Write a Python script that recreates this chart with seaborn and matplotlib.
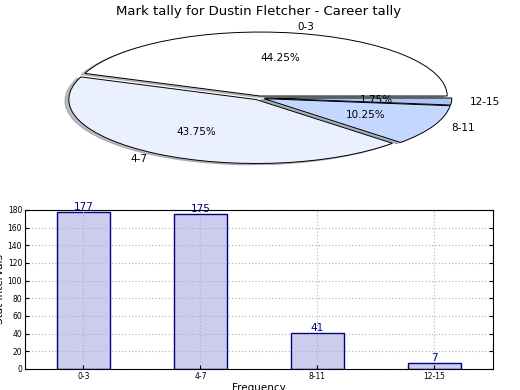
import matplotlib
matplotlib.use("Agg")
import matplotlib.pyplot as plt
import seaborn as sns
import pandas as pd

sns.set_style("white")
plt.rcParams['font.family'] = ['DejaVu Sans']
plt.rcParams['text.color'] = 'black'
plt.rcParams['axes.labelcolor'] = 'black'
plt.rcParams['xtick.color'] = 'black'
plt.rcParams['ytick.color'] = 'black'

categories = ["0-3", "4-7", "8-11", "12-15"]
counts = [177, 175, 41, 7]
pie_colors = ["#ffffff", "#eaf0fe", "#c4d8ff", "#a9c6f2"]

df = pd.DataFrame({"interval": categories, "count": counts})

fig = plt.figure(figsize=(5.2, 3.9), dpi=100)

# pie on top, stretched (aspect not equal)
ax1 = fig.add_axes([0.048, 0.544, 0.9, 0.41])
ax1.pie(counts, labels=categories, colors=pie_colors, autopct="%1.2f%%",
        explode=[0.03] * 4, shadow={"ox": -0.015, "oy": -0.015, "shade": 0.5},
        startangle=0,
        wedgeprops={"edgecolor": "black", "linewidth": 0.7},
        textprops={"fontsize": 7.5})
ax1.set_aspect("auto")
ax1.set_title("Mark tally for Dustin Fletcher - Career tally", fontsize=9.5, pad=1)

# bars below
ax2 = fig.add_axes([0.048, 0.054, 0.9, 0.408])
sns.barplot(data=df, x="interval", y="count", ax=ax2, width=0.45,
            color="#ccccee", edgecolor="navy", linewidth=1, saturation=1)
for i, v in enumerate(counts):
    ax2.text(i, v, str(v), ha="center", va="bottom", color="navy", fontsize=7.5)

ax2.set_xlim(-0.5, 3.5)
ax2.set_ylim(0, 180)
ax2.set_yticks(range(0, 181, 20))
ax2.grid(True, linestyle=(0, (1, 2)), color="#b0b0b0", linewidth=0.8)
ax2.set_axisbelow(False)
ax2.tick_params(direction="in", labelsize=5.5, length=3, right=True, top=False, bottom=True, left=True, pad=2)
ax2.set_xlabel("Frequency", fontsize=7.5, labelpad=2)
ax2.set_ylabel("Stat intervals", fontsize=7.5, labelpad=2)
for s in ax2.spines.values():
    s.set_color("black")
    s.set_linewidth(0.8)
    s.set_zorder(4)

fig.savefig("out.png", dpi=100)
